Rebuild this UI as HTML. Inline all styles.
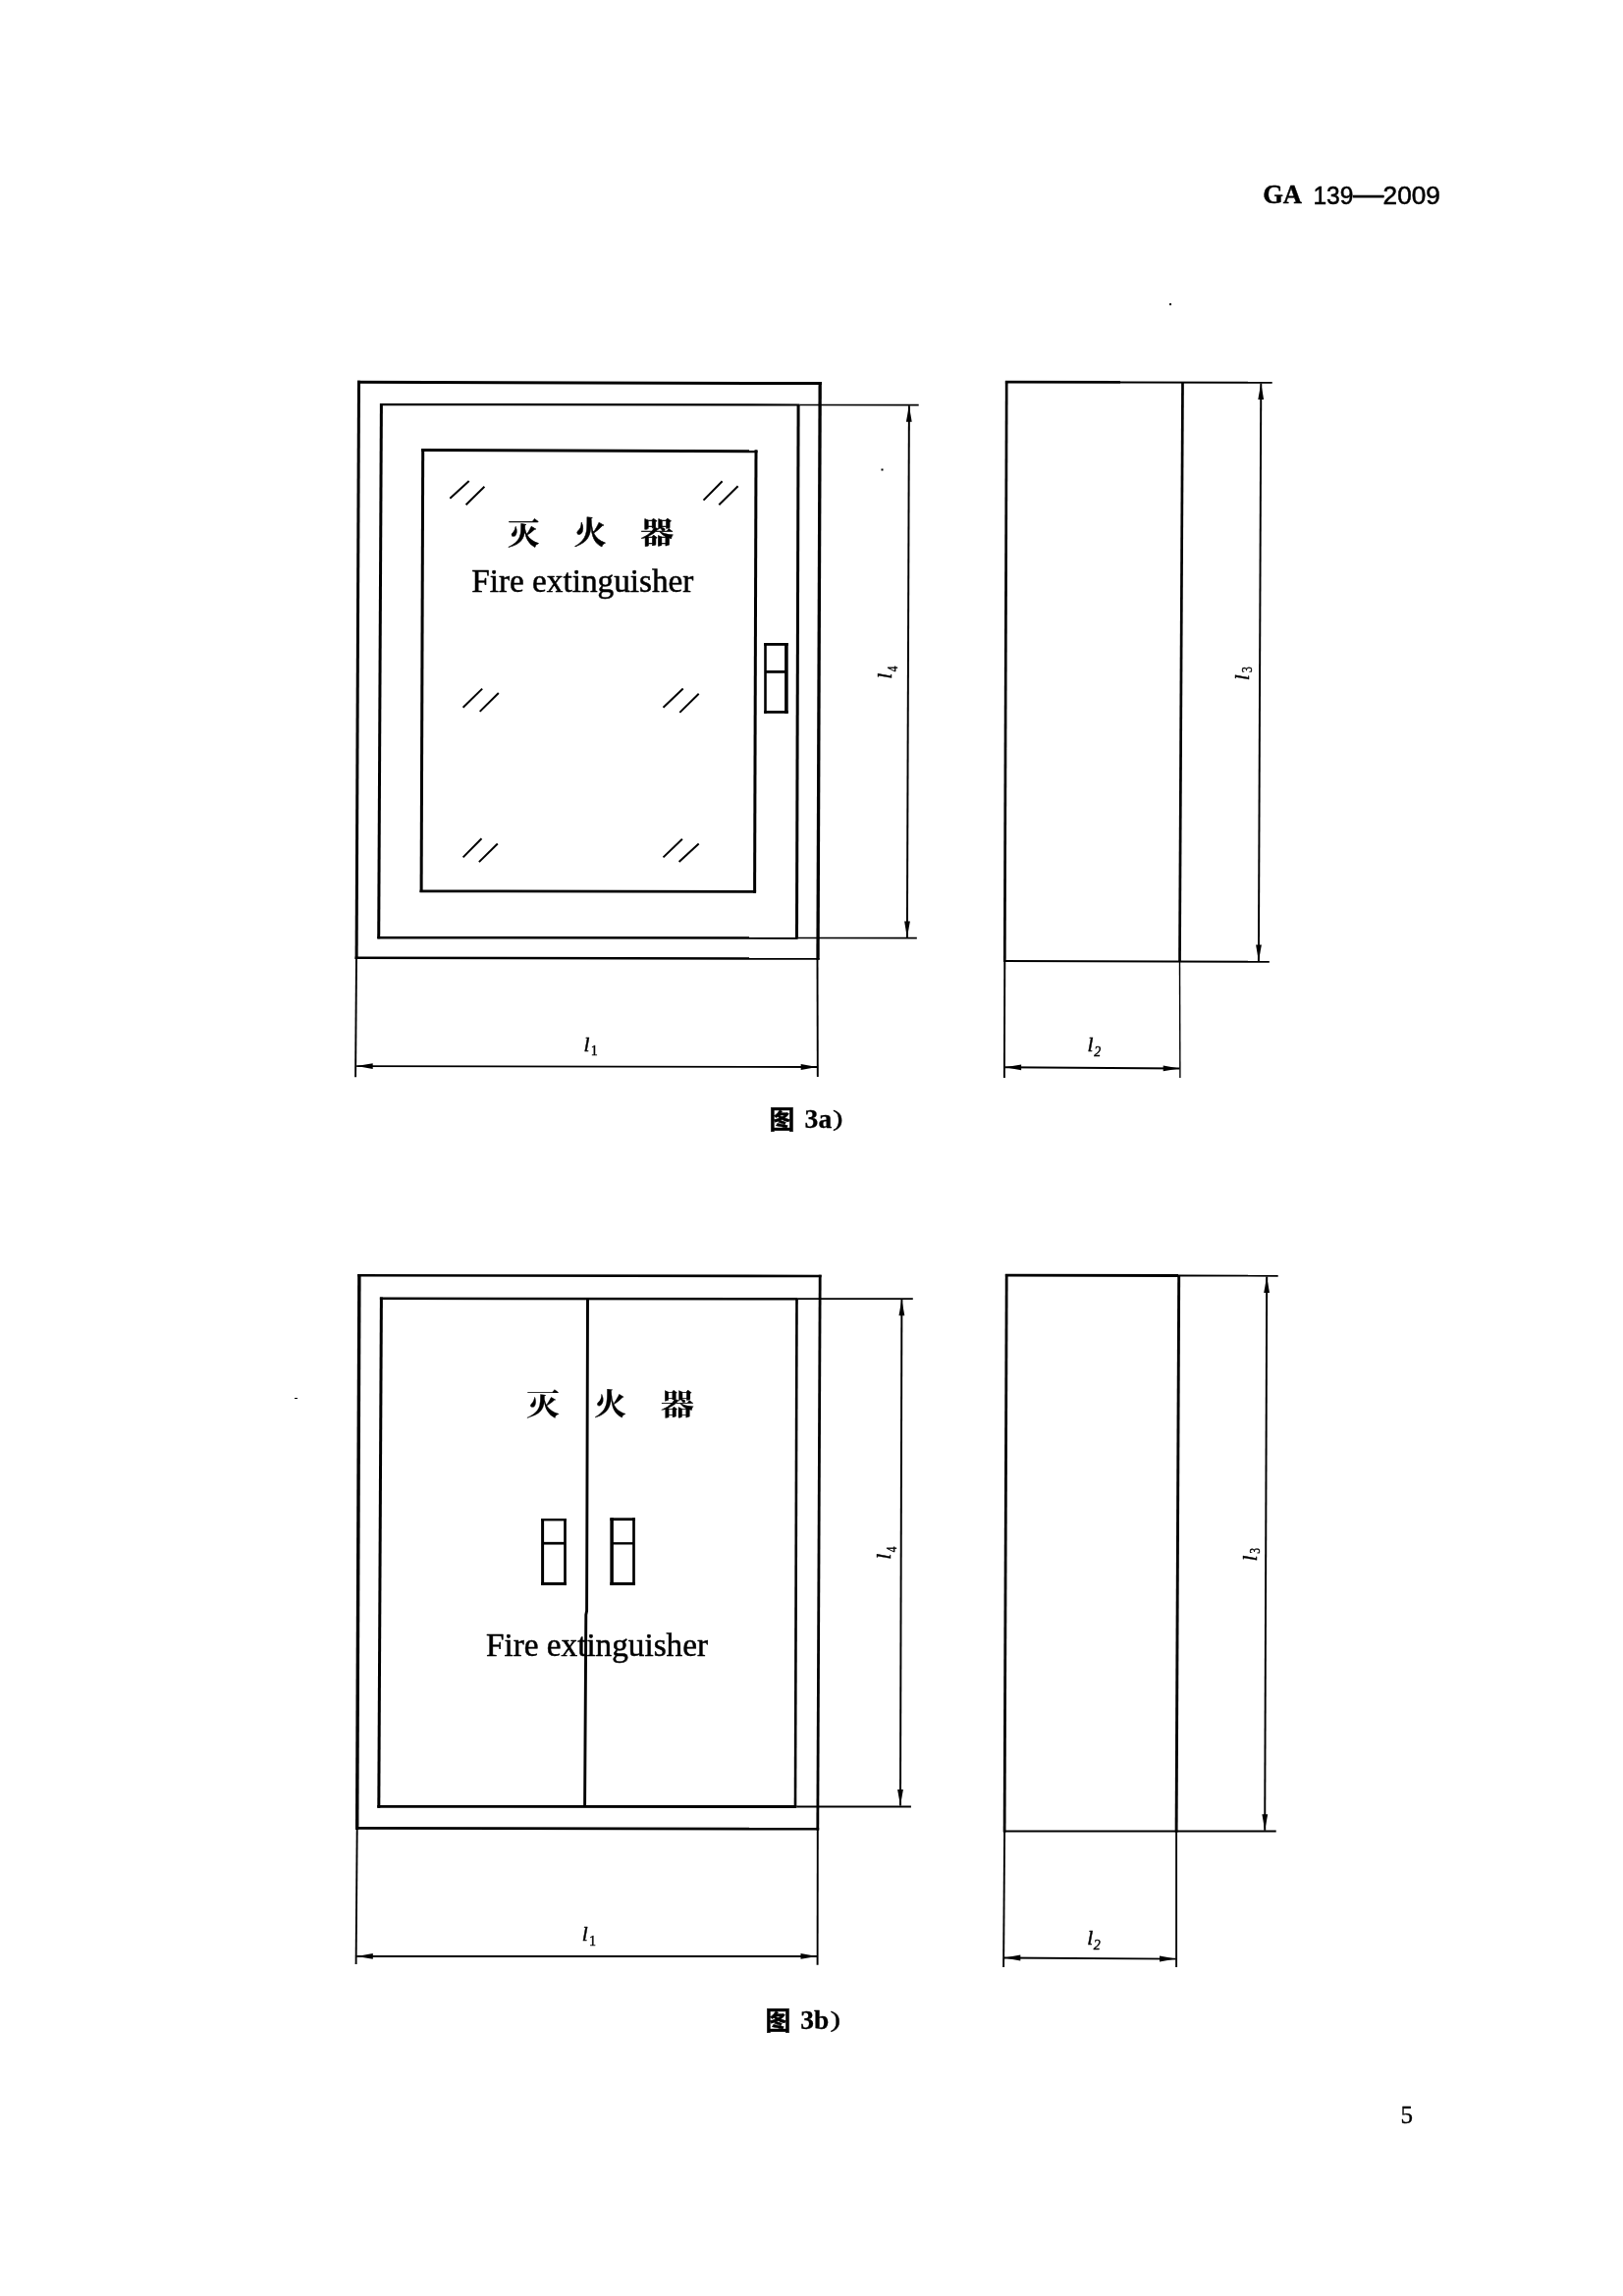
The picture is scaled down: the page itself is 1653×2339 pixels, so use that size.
<!DOCTYPE html>
<html lang="zh-CN">
<head>
<meta charset="utf-8">
<title>GA 139—2009</title>
<style>
html,body{margin:0;padding:0;background:#fff;}
body{width:1653px;height:2339px;overflow:hidden;position:relative;}
svg{position:absolute;left:0;top:0;display:block;will-change:transform;}
svg line,svg path{stroke:#000;stroke-linecap:butt;stroke-linejoin:miter;fill:none;}
svg text{fill:#000;}
</style>
</head>
<body>
<svg width="1653" height="2339" viewBox="0 0 1653 2339">
<rect x="0" y="0" width="1653" height="2339" fill="#fff" stroke="none"/>
<g id="fig3a-front">
<line x1="364.0" y1="389.3" x2="836.8" y2="390.6" stroke-width="3.00"/>
<line x1="361.6" y1="975.8" x2="834.6" y2="976.6" stroke-width="2.50"/>
<line x1="365.5" y1="387.8" x2="363.1" y2="977.0" stroke-width="3.00"/>
<line x1="835.2" y1="389.1" x2="833.0" y2="977.8" stroke-width="3.30"/>
<line x1="387.0" y1="412.1" x2="814.3" y2="412.5" stroke-width="2.20"/>
<line x1="814.3" y1="412.5" x2="935.7" y2="412.6" stroke-width="1.70"/>
<line x1="388.4" y1="411.0" x2="385.7" y2="956.2" stroke-width="3.00"/>
<line x1="384.4" y1="955.2" x2="812.7" y2="955.6" stroke-width="2.60"/>
<line x1="812.7" y1="955.5" x2="933.8" y2="955.7" stroke-width="1.70"/>
<line x1="813.1" y1="412.4" x2="811.5" y2="955.5" stroke-width="3.00"/>
<line x1="429.2" y1="458.5" x2="771.5" y2="459.7" stroke-width="3.00"/>
<line x1="427.6" y1="907.8" x2="770.1" y2="908.4" stroke-width="2.70"/>
<line x1="430.7" y1="457.0" x2="429.1" y2="909.1" stroke-width="3.00"/>
<line x1="770.0" y1="458.2" x2="768.6" y2="909.7" stroke-width="3.00"/>
<line x1="458.3" y1="507.7" x2="477.7" y2="490.1" stroke-width="2.00"/>
<line x1="474.6" y1="514.2" x2="493.4" y2="495.7" stroke-width="2.00"/>
<line x1="716.5" y1="509.6" x2="735.6" y2="490.3" stroke-width="2.00"/>
<line x1="732.3" y1="514.3" x2="751.6" y2="495.2" stroke-width="2.00"/>
<line x1="471.6" y1="720.7" x2="491.2" y2="701.6" stroke-width="2.00"/>
<line x1="488.7" y1="724.9" x2="507.8" y2="706.0" stroke-width="2.00"/>
<line x1="675.5" y1="720.7" x2="695.7" y2="701.6" stroke-width="2.00"/>
<line x1="692.3" y1="725.9" x2="711.7" y2="706.8" stroke-width="2.00"/>
<line x1="471.6" y1="873.4" x2="490.5" y2="854.3" stroke-width="2.00"/>
<line x1="487.9" y1="878.1" x2="506.8" y2="859.5" stroke-width="2.00"/>
<line x1="675.5" y1="873.4" x2="694.9" y2="854.8" stroke-width="2.00"/>
<line x1="691.6" y1="878.1" x2="711.7" y2="859.5" stroke-width="2.00"/>
<line x1="778.2" y1="656.4" x2="802.7" y2="656.4" stroke-width="2.80"/>
<line x1="778.2" y1="725.4" x2="802.7" y2="725.4" stroke-width="2.80"/>
<line x1="779.5" y1="655.0" x2="779.5" y2="726.8" stroke-width="2.60"/>
<line x1="800.9" y1="655.0" x2="800.9" y2="726.8" stroke-width="3.60"/>
<line x1="779.5" y1="684.4" x2="800.9" y2="684.4" stroke-width="2.80"/>
<line x1="925.9" y1="413.2" x2="923.9" y2="954.9" stroke-width="1.95"/>
<polygon points="925.9,413.2 928.7,429.7 922.9,429.7" fill="#000" stroke="none"/>
<polygon points="923.9,954.9 921.1,938.4 926.9,938.4" fill="#000" stroke="none"/>
<line x1="363.0" y1="976.0" x2="362.1" y2="1097.2" stroke-width="1.90"/>
<line x1="832.5" y1="977.0" x2="832.8" y2="1096.9" stroke-width="1.90"/>
<line x1="363.2" y1="1086.1" x2="832.2" y2="1087.0" stroke-width="1.95"/>
<polygon points="363.2,1086.1 379.7,1083.2 379.7,1089.0" fill="#000" stroke="none"/>
<polygon points="832.2,1087.0 815.7,1089.9 815.7,1084.1" fill="#000" stroke="none"/>
</g>
<g id="fig3a-side">
<line x1="1025.2" y1="388.0" x2="1023.3" y2="979.8" stroke-width="2.70"/>
<line x1="1204.5" y1="389.7" x2="1201.5" y2="979.8" stroke-width="2.70"/>
<line x1="1023.9" y1="389.2" x2="1141.0" y2="389.4" stroke-width="2.80"/>
<line x1="1141.0" y1="389.5" x2="1295.7" y2="389.8" stroke-width="1.90"/>
<line x1="1022.0" y1="978.9" x2="1292.8" y2="979.8" stroke-width="2.00"/>
<line x1="1284.3" y1="390.6" x2="1281.9" y2="979.0" stroke-width="1.95"/>
<polygon points="1284.3,390.6 1287.1,407.1 1281.3,407.1" fill="#000" stroke="none"/>
<polygon points="1281.9,979.0 1279.1,962.5 1284.9,962.5" fill="#000" stroke="none"/>
<line x1="1023.3" y1="979.0" x2="1022.9" y2="1098.1" stroke-width="1.90"/>
<line x1="1201.5" y1="979.5" x2="1201.9" y2="1098.1" stroke-width="1.40"/>
<line x1="1023.6" y1="1087.3" x2="1201.2" y2="1088.5" stroke-width="1.95"/>
<polygon points="1023.6,1087.3 1040.1,1084.5 1040.1,1090.3" fill="#000" stroke="none"/>
<polygon points="1201.2,1088.5 1184.7,1091.3 1184.7,1085.5" fill="#000" stroke="none"/>
</g>
<g id="fig3b-front">
<line x1="364.2" y1="1299.3" x2="836.6" y2="1300.0" stroke-width="2.60"/>
<line x1="362.0" y1="1862.4" x2="834.2" y2="1863.2" stroke-width="2.80"/>
<line x1="365.9" y1="1298.0" x2="363.7" y2="1863.8" stroke-width="3.40"/>
<line x1="835.2" y1="1298.7" x2="832.8" y2="1864.6" stroke-width="2.80"/>
<line x1="386.9" y1="1322.8" x2="812.7" y2="1323.2" stroke-width="2.50"/>
<line x1="812.7" y1="1323.2" x2="929.8" y2="1323.2" stroke-width="1.80"/>
<line x1="388.4" y1="1321.5" x2="385.8" y2="1841.8" stroke-width="3.00"/>
<line x1="384.3" y1="1840.4" x2="811.2" y2="1840.5" stroke-width="2.80"/>
<line x1="811.2" y1="1840.5" x2="927.9" y2="1840.5" stroke-width="1.80"/>
<line x1="811.5" y1="1323.0" x2="810.0" y2="1840.1" stroke-width="2.60"/>
<path d="M598.5 1322.5 L597.6 1641.0 L596.8 1645.0 L595.6 1840.0" stroke-width="2.90" fill="none"/>
<line x1="551.1" y1="1548.2" x2="576.9" y2="1548.2" stroke-width="2.40"/>
<line x1="551.1" y1="1613.4" x2="576.9" y2="1613.4" stroke-width="3.00"/>
<line x1="552.6" y1="1547.0" x2="552.6" y2="1614.9" stroke-width="3.00"/>
<line x1="575.5" y1="1547.0" x2="575.5" y2="1614.9" stroke-width="2.70"/>
<line x1="552.6" y1="1572.2" x2="575.5" y2="1572.2" stroke-width="2.70"/>
<line x1="621.4" y1="1547.7" x2="646.9" y2="1547.7" stroke-width="2.80"/>
<line x1="621.4" y1="1613.4" x2="646.9" y2="1613.4" stroke-width="3.00"/>
<line x1="623.1" y1="1546.3" x2="623.1" y2="1614.9" stroke-width="3.50"/>
<line x1="645.5" y1="1546.3" x2="645.5" y2="1614.9" stroke-width="2.70"/>
<line x1="623.1" y1="1572.3" x2="645.5" y2="1572.3" stroke-width="2.40"/>
<line x1="918.4" y1="1323.8" x2="917.0" y2="1839.6" stroke-width="1.95"/>
<polygon points="918.4,1323.8 921.3,1340.3 915.5,1340.3" fill="#000" stroke="none"/>
<polygon points="917.0,1839.6 914.1,1823.1 919.9,1823.1" fill="#000" stroke="none"/>
<line x1="363.7" y1="1862.5" x2="362.6" y2="2000.9" stroke-width="1.90"/>
<line x1="832.8" y1="1863.2" x2="832.6" y2="2001.8" stroke-width="1.90"/>
<line x1="363.3" y1="1992.9" x2="832.0" y2="1992.9" stroke-width="1.95"/>
<polygon points="363.3,1992.9 379.8,1990.0 379.8,1995.8" fill="#000" stroke="none"/>
<polygon points="832.0,1992.9 815.5,1995.8 815.5,1990.0" fill="#000" stroke="none"/>
</g>
<g id="fig3b-side">
<line x1="1025.2" y1="1298.0" x2="1023.1" y2="1866.4" stroke-width="2.80"/>
<line x1="1200.7" y1="1299.5" x2="1198.1" y2="1866.4" stroke-width="2.90"/>
<line x1="1023.9" y1="1299.2" x2="1200.0" y2="1299.5" stroke-width="2.80"/>
<line x1="1200.0" y1="1299.5" x2="1301.7" y2="1299.7" stroke-width="1.90"/>
<line x1="1022.0" y1="1865.5" x2="1299.7" y2="1865.6" stroke-width="2.00"/>
<line x1="1290.2" y1="1300.5" x2="1288.2" y2="1864.8" stroke-width="1.95"/>
<polygon points="1290.2,1300.5 1293.0,1317.0 1287.2,1317.0" fill="#000" stroke="none"/>
<polygon points="1288.2,1864.8 1285.4,1848.3 1291.2,1848.3" fill="#000" stroke="none"/>
<line x1="1023.1" y1="1865.5" x2="1022.1" y2="2004.0" stroke-width="1.90"/>
<line x1="1198.1" y1="1865.5" x2="1198.1" y2="2004.0" stroke-width="1.90"/>
<line x1="1022.8" y1="1994.4" x2="1197.5" y2="1995.6" stroke-width="1.95"/>
<polygon points="1022.8,1994.4 1039.3,1991.6 1039.3,1997.4" fill="#000" stroke="none"/>
<polygon points="1197.5,1995.6 1181.0,1998.4 1181.0,1992.6" fill="#000" stroke="none"/>
</g>
<rect x="1191" y="309" width="2" height="2" fill="#000" stroke="none"/>
<rect x="897.5" y="477.5" width="2" height="2" fill="#000" stroke="none"/>
<rect x="300" y="1424" width="3" height="1" fill="#000" stroke="none"/>
<text x="1286.2" y="207.3" font-family="'Liberation Serif','Noto Serif CJK SC',serif" font-size="26.5" font-weight="700" textLength="39.8" lengthAdjust="spacingAndGlyphs" stroke="#000" stroke-width="0.45" stroke-linejoin="round">GA</text>
<text x="1337.4" y="207.6" font-family="'Liberation Sans','Noto Sans CJK SC',sans-serif" font-size="26.6" textLength="41.0" lengthAdjust="spacingAndGlyphs" stroke="#000" stroke-width="0.55" stroke-linejoin="round">139</text>
<text x="1378.2" y="206.6" font-family="'Liberation Sans','Noto Sans CJK SC',sans-serif" font-size="26.6" textLength="31.0" lengthAdjust="spacingAndGlyphs" stroke="#000" stroke-width="0.80" stroke-linejoin="round">—</text>
<text x="1408.6" y="207.6" font-family="'Liberation Sans','Noto Sans CJK SC',sans-serif" font-size="26.6" textLength="58.2" lengthAdjust="spacingAndGlyphs" stroke="#000" stroke-width="0.55" stroke-linejoin="round">2009</text>
<g transform="translate(533.2 553.9) scale(0.980 0.920)">
<text x="0.0" y="0.0" font-family="'Liberation Serif','Noto Serif CJK SC',serif" font-size="32.5" font-weight="700" text-anchor="middle" stroke="#000" stroke-width="0.50" stroke-linejoin="round">灭</text>
</g>
<g transform="translate(600.9 554.2) scale(1.000 1.000)">
<text x="0.0" y="0.0" font-family="'Liberation Serif','Noto Serif CJK SC',serif" font-size="32.5" font-weight="700" text-anchor="middle" stroke="#000" stroke-width="0.50" stroke-linejoin="round">火</text>
</g>
<g transform="translate(669.2 553.3) scale(1.040 0.905)">
<text x="0.0" y="0.0" font-family="'Liberation Serif','Noto Serif CJK SC',serif" font-size="32.5" font-weight="700" text-anchor="middle" stroke="#000" stroke-width="0.50" stroke-linejoin="round">器</text>
</g>
<text x="480.2" y="602.5" font-family="'Liberation Serif','Noto Serif CJK SC',serif" font-size="33.2" textLength="226.2" lengthAdjust="spacingAndGlyphs" stroke="#000" stroke-width="0.50" stroke-linejoin="round">Fire extinguisher</text>
<g transform="translate(552.9 1441.2) scale(1.030 0.915)">
<text x="0.0" y="0.0" font-family="'Liberation Serif','Noto Serif CJK SC',serif" font-size="32.5" font-weight="700" text-anchor="middle" stroke="#000" stroke-width="0.25" stroke-linejoin="round">灭</text>
</g>
<g transform="translate(621.5 1441.3) scale(1.000 0.960)">
<text x="0.0" y="0.0" font-family="'Liberation Serif','Noto Serif CJK SC',serif" font-size="32.5" font-weight="700" text-anchor="middle" stroke="#000" stroke-width="0.25" stroke-linejoin="round">火</text>
</g>
<g transform="translate(689.7 1440.7) scale(1.050 0.900)">
<text x="0.0" y="0.0" font-family="'Liberation Serif','Noto Serif CJK SC',serif" font-size="32.5" font-weight="700" text-anchor="middle" stroke="#000" stroke-width="0.25" stroke-linejoin="round">器</text>
</g>
<text x="495.0" y="1687.0" font-family="'Liberation Serif','Noto Serif CJK SC',serif" font-size="33.2" textLength="226.0" lengthAdjust="spacingAndGlyphs" stroke="#000" stroke-width="0.50" stroke-linejoin="round">Fire extinguisher</text>
<g>
<text x="594.6" y="1070.6" font-family="'Liberation Serif','Noto Serif CJK SC',serif" font-size="21.5" font-style="italic" stroke="#000" stroke-width="0.45" stroke-linejoin="round">l</text>
<text x="601.8" y="1075.2" font-family="'Liberation Serif','Noto Serif CJK SC',serif" font-size="14.0" stroke="#000" stroke-width="0.40" stroke-linejoin="round">1</text>
</g>
<g>
<text x="1107.6" y="1071.2" font-family="'Liberation Serif','Noto Serif CJK SC',serif" font-size="21.5" font-style="italic" stroke="#000" stroke-width="0.45" stroke-linejoin="round">l</text>
<text x="1114.2" y="1075.8" font-family="'Liberation Serif','Noto Serif CJK SC',serif" font-size="14.0" font-style="italic" stroke="#000" stroke-width="0.40" stroke-linejoin="round">2</text>
</g>
<g>
<text x="592.8" y="1977.4" font-family="'Liberation Serif','Noto Serif CJK SC',serif" font-size="21.5" font-style="italic" stroke="#000" stroke-width="0.45" stroke-linejoin="round">l</text>
<text x="600.0" y="1982.0" font-family="'Liberation Serif','Noto Serif CJK SC',serif" font-size="14.0" stroke="#000" stroke-width="0.40" stroke-linejoin="round">1</text>
</g>
<g>
<text x="1107.2" y="1981.2" font-family="'Liberation Serif','Noto Serif CJK SC',serif" font-size="21.5" font-style="italic" stroke="#000" stroke-width="0.45" stroke-linejoin="round">l</text>
<text x="1113.8" y="1985.8" font-family="'Liberation Serif','Noto Serif CJK SC',serif" font-size="14.0" font-style="italic" stroke="#000" stroke-width="0.40" stroke-linejoin="round">2</text>
</g>
<g transform="rotate(-90 908.2 691.8)">
<text x="908.2" y="691.8" font-family="'Liberation Serif','Noto Serif CJK SC',serif" font-size="21.5" font-style="italic" stroke="#000" stroke-width="0.45" stroke-linejoin="round">l</text>
<text x="915.8" y="697.4" font-family="'Liberation Serif','Noto Serif CJK SC',serif" font-size="14.0" textLength="5.6" lengthAdjust="spacingAndGlyphs" stroke="#000" stroke-width="0.40" stroke-linejoin="round">4</text>
</g>
<g transform="rotate(-90 1272.0 693.2)">
<text x="1272.0" y="693.2" font-family="'Liberation Serif','Noto Serif CJK SC',serif" font-size="21.5" font-style="italic" stroke="#000" stroke-width="0.45" stroke-linejoin="round">l</text>
<text x="1280.2" y="696.2" font-family="'Liberation Serif','Noto Serif CJK SC',serif" font-size="14.0" textLength="5.8" lengthAdjust="spacingAndGlyphs" stroke="#000" stroke-width="0.40" stroke-linejoin="round">3</text>
</g>
<g transform="rotate(-90 907.4 1588.8)">
<text x="907.4" y="1588.8" font-family="'Liberation Serif','Noto Serif CJK SC',serif" font-size="21.5" font-style="italic" stroke="#000" stroke-width="0.45" stroke-linejoin="round">l</text>
<text x="915.0" y="1594.2" font-family="'Liberation Serif','Noto Serif CJK SC',serif" font-size="14.0" textLength="5.6" lengthAdjust="spacingAndGlyphs" stroke="#000" stroke-width="0.40" stroke-linejoin="round">4</text>
</g>
<g transform="rotate(-90 1279.8 1590.6)">
<text x="1279.8" y="1590.6" font-family="'Liberation Serif','Noto Serif CJK SC',serif" font-size="21.5" font-style="italic" stroke="#000" stroke-width="0.45" stroke-linejoin="round">l</text>
<text x="1287.6" y="1594.2" font-family="'Liberation Serif','Noto Serif CJK SC',serif" font-size="15.5" textLength="5.8" lengthAdjust="spacingAndGlyphs" stroke="#000" stroke-width="0.40" stroke-linejoin="round">3</text>
</g>
<text x="783.6" y="1150.4" font-family="'Liberation Sans','Noto Sans CJK SC',sans-serif" font-size="25.8" font-weight="700" stroke="#000" stroke-width="0.50" stroke-linejoin="round">图</text>
<text x="819.6" y="1149.4" font-family="'Liberation Serif','Noto Serif CJK SC',serif" font-size="28.0" font-weight="700" textLength="27.6" lengthAdjust="spacingAndGlyphs" stroke="#000" stroke-width="0.30" stroke-linejoin="round">3a</text>
<g transform="translate(847.9 1147.0) scale(1.32 1)">
<text x="0.0" y="0.0" font-family="'Liberation Serif','Noto Serif CJK SC',serif" font-size="24.0" stroke="#000" stroke-width="0.35" stroke-linejoin="round">)</text>
</g>
<text x="779.6" y="2068.4" font-family="'Liberation Sans','Noto Sans CJK SC',sans-serif" font-size="25.8" font-weight="700" stroke="#000" stroke-width="0.50" stroke-linejoin="round">图</text>
<text x="815.2" y="2067.4" font-family="'Liberation Serif','Noto Serif CJK SC',serif" font-size="28.0" font-weight="700" textLength="29.0" lengthAdjust="spacingAndGlyphs" stroke="#000" stroke-width="0.30" stroke-linejoin="round">3b</text>
<g transform="translate(845.5 2065.0) scale(1.32 1)">
<text x="0.0" y="0.0" font-family="'Liberation Serif','Noto Serif CJK SC',serif" font-size="24.0" stroke="#000" stroke-width="0.35" stroke-linejoin="round">)</text>
</g>
<text x="1426.4" y="2162.9" font-family="'Liberation Serif','Noto Serif CJK SC',serif" font-size="25.0" stroke="#000" stroke-width="0.35" stroke-linejoin="round">5</text>
</svg>
</body>
</html>
